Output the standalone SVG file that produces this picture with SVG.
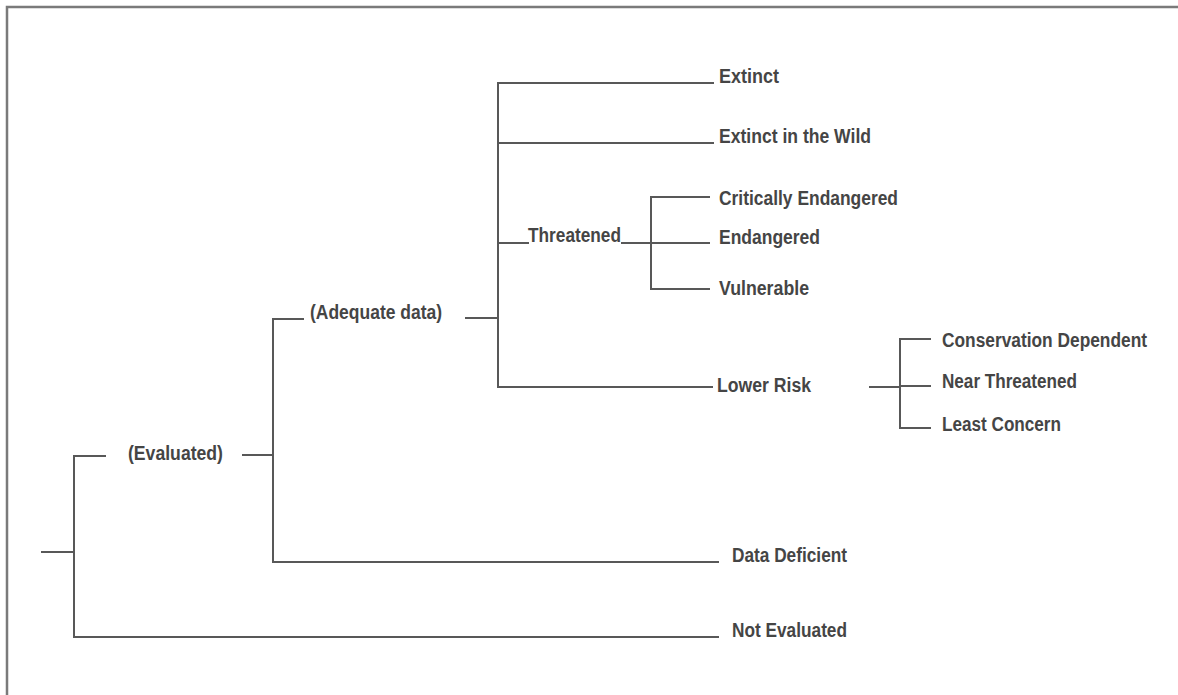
<svg xmlns="http://www.w3.org/2000/svg" width="1178" height="695" viewBox="0 0 1178 695">
<style>
.ln{stroke:#585858;stroke-width:2;fill:none;stroke-linecap:square}
.fr{stroke:#7a7a7a;stroke-width:2.5;fill:none}
text{font-family:"Liberation Sans",Arial,sans-serif;font-weight:bold;font-size:20px;fill:#454545}
</style>
<rect width="1178" height="695" fill="#ffffff"/>
<path class="fr" d="M7,695 V7 H1178"/>
<g id="connectors">
<path class="ln" d="M42,552 H74 M74,456 V637 M74,456 H105 M74,637 H718"/>
<path class="ln" d="M243,455 H273 M273,319 V562 M273,319 H303 M273,562 H718"/>
<path class="ln" d="M466,318 H498 M498,83 V387 M498,83 H713 M498,143 H713 M498,243 H528 M498,387 H712"/>
<path class="ln" d="M622,243 H709 M651,197 V289 M651,197 H709 M651,289 H709"/>
<path class="ln" d="M870,387 H900 M900,339 V428 M900,339 H930 M900,386 H930 M900,428 H930"/>
</g>
<g id="n-evaluated"><text x="128" y="460" textLength="95" lengthAdjust="spacingAndGlyphs">(Evaluated)</text></g>
<g id="n-adequate"><text x="310" y="319" textLength="132" lengthAdjust="spacingAndGlyphs">(Adequate data)</text></g>
<g id="n-extinct"><text x="719" y="83" textLength="60" lengthAdjust="spacingAndGlyphs">Extinct</text></g>
<g id="n-extinct-wild"><text x="719" y="143" textLength="152" lengthAdjust="spacingAndGlyphs">Extinct in the Wild</text></g>
<g id="n-threatened"><text x="528" y="242" textLength="93" lengthAdjust="spacingAndGlyphs">Threatened</text></g>
<g id="n-critically"><text x="719" y="205" textLength="179" lengthAdjust="spacingAndGlyphs">Critically Endangered</text></g>
<g id="n-endangered"><text x="719" y="244" textLength="101" lengthAdjust="spacingAndGlyphs">Endangered</text></g>
<g id="n-vulnerable"><text x="719" y="295" textLength="90" lengthAdjust="spacingAndGlyphs">Vulnerable</text></g>
<g id="n-lowerrisk"><text x="717" y="392" textLength="94" lengthAdjust="spacingAndGlyphs">Lower Risk</text></g>
<g id="n-consdep"><text x="942" y="347" textLength="205" lengthAdjust="spacingAndGlyphs">Conservation Dependent</text></g>
<g id="n-nearthreat"><text x="942" y="388" textLength="135" lengthAdjust="spacingAndGlyphs">Near Threatened</text></g>
<g id="n-leastconcern"><text x="942" y="431" textLength="119" lengthAdjust="spacingAndGlyphs">Least Concern</text></g>
<g id="n-datadef"><text x="732" y="562" textLength="115" lengthAdjust="spacingAndGlyphs">Data Deficient</text></g>
<g id="n-noteval"><text x="732" y="637" textLength="115" lengthAdjust="spacingAndGlyphs">Not Evaluated</text></g>
</svg>
